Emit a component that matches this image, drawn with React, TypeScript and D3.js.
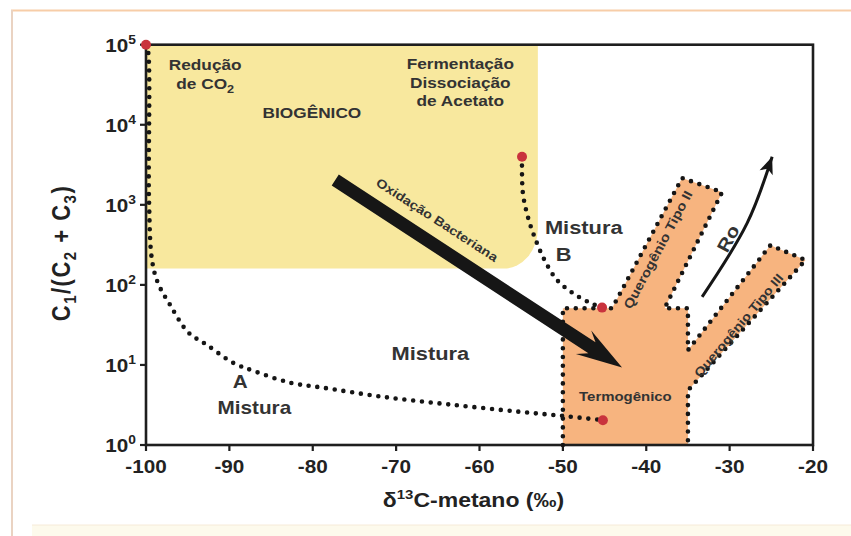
import React from "react";
import * as d3 from "d3";

const WIDTH = 851;
const HEIGHT = 536;

// Axis ticks
const xTickValues = [-100, -90, -80, -70, -60, -50, -40, -30, -20];
const yTickExponents = [0, 1, 2, 3, 4, 5];

// Biogenic field (δ13C range, C1/(C2+C3) range)
const biogenicDelta = [-100, -53];
const biogenicRatio = [160, 100000];

// Thermogenic field with kerogen type II and type III branches (δ13C, ratio)
const thermogenicField: [number, number][] = [
  [-50, 1], [-50, 51], [-44.1, 51], [-35.7, 2160], [-30.9, 1440], [-37.8, 51],
  [-35, 51], [-35, 15.3], [-25.1, 313], [-20.9, 204], [-35, 4.8], [-35, 1],
];

// Mixing trends
const mixingCurveA: [number, number][] = [
  [-100, 100000], [-99.76, 85000], [-99.64, 1150], [-99.28, 204], [-98.56, 105],
  [-97.1, 56], [-94.96, 25.7], [-92.7, 17.8], [-89.6, 10.7], [-87.2, 8.5],
  [-82.7, 6.0], [-78.8, 5.2], [-71.6, 4.0], [-63.5, 3.2], [-55.2, 2.6],
  [-49.8, 2.3], [-45.2, 2.04],
];
const mixingCurveB: [number, number][] = [
  [-54.9, 3980], [-54.8, 1410], [-54.2, 708], [-53.4, 398], [-52.2, 204],
  [-50.7, 115], [-48.8, 79], [-46.8, 60], [-45.3, 52],
];
const endMembers: [number, number][] = [
  [-100, 100000], [-54.9, 3980], [-45.3, 52], [-45.2, 2.04],
];

// Bacterial oxidation trend and maturity (Ro) trend
const oxidationArrow: [number, number][] = [[-77.3, 2040], [-42.9, 9.3]];
const maturityArrow: [number, number][] = [[-33.3, 71], [-27.9, 590], [-24.9, 3980]];

type Note = { lines: string[]; x: number; y: number; size: number; rotate?: number };

const fieldNotes: Note[] = [
  { lines: ["BIOGÊNICO"], x: -80.1, y: 14100, size: 15 },
  { lines: ["Fermentação"], x: -62.3, y: 58900, size: 15 },
  { lines: ["Dissociação"], x: -62.3, y: 33900, size: 15 },
  { lines: ["de Acetato"], x: -62.3, y: 19950, size: 15 },
  { lines: ["Mistura"], x: -47.5, y: 525, size: 19 },
  { lines: ["B"], x: -49.9, y: 245, size: 19 },
  { lines: ["Mistura"], x: -65.9, y: 14.1, size: 19 },
  { lines: ["A"], x: -88.7, y: 6.3, size: 18 },
  { lines: ["Mistura"], x: -87.0, y: 2.9, size: 18 },
  { lines: ["Termogênico"], x: -42.5, y: 4.0, size: 13 },
  { lines: ["Querogênio Tipo II"], x: -38.6, y: 275, size: 13, rotate: -62 },
  { lines: ["Querogênio Tipo III"], x: -28.9, y: 31, size: 12.5, rotate: -50 },
  { lines: ["Ro"], x: -30.2, y: 380, size: 18, rotate: -62 },
  { lines: ["Oxidação Bacteriana"], x: -65.1, y: 646, size: 12.5, rotate: 33 },
];
const co2Note = { x: -92.9, y1: 57500, y2: 32400 };

const FONT = "'Liberation Sans', Arial, Helvetica, sans-serif";
const TEXT = "#333333";
const STRETCH = 1.15;

const x = d3.scaleLinear().domain([-100, -20]).range([146, 813]);
const y = d3.scaleLog().domain([1, 100000]).range([445, 44.7]);

const px = (d: [number, number]): [number, number] => [x(d[0]), y(d[1])];

export default function App() {
  const left = x(-100);
  const right = x(-20);
  const top = y(100000);
  const bottom = y(1);

  // Biogenic field with rounded lower-right corner
  const bx0 = x(biogenicDelta[0]);
  const bx1 = x(biogenicDelta[1]);
  const by0 = y(biogenicRatio[1]);
  const by1 = y(biogenicRatio[0]);
  const rx = 34;
  const ry = 40;
  const biogenicPath = `M${bx0},${by0} H${bx1} V${by1 - ry} A${rx},${ry} 0 0 1 ${bx1 - rx},${by1} H${bx0} Z`;

  const straight = d3.line<[number, number]>().x((d) => x(d[0])).y((d) => y(d[1]));
  const smooth = d3
    .line<[number, number]>()
    .x((d) => x(d[0]))
    .y((d) => y(d[1]))
    .curve(d3.curveCatmullRom.alpha(0.5));

  const fieldFill = straight(thermogenicField) + "Z";
  const fieldOutline = straight(thermogenicField);

  // Oxidation arrow polygon
  const [sx, sy] = px(oxidationArrow[0]);
  const [tx, ty] = px(oxidationArrow[1]);
  const len = Math.hypot(tx - sx, ty - sy);
  const ux = (tx - sx) / len;
  const uy = (ty - sy) / len;
  const nx = -uy;
  const ny = ux;
  const shaftHalf = 6.5;
  const headHalf = 14;
  const headLen = 46;
  const neck = 36;
  const pt = (d: number, w: number) => `${sx + ux * d + nx * w},${sy + uy * d + ny * w}`;
  const oxidationPoly = [
    pt(0, shaftHalf),
    pt(len - neck, shaftHalf),
    pt(len - headLen, headHalf),
    pt(len, 0),
    pt(len - headLen, -headHalf),
    pt(len - neck, -shaftHalf),
    pt(0, -shaftHalf),
  ].join(" ");

  // Maturity arrow
  const mPts = maturityArrow.map(px);
  const maturityLine = d3
    .line<[number, number]>()
    .curve(d3.curveCatmullRom.alpha(0.5))(mPts) as string;
  const [m1x, m1y] = mPts[mPts.length - 1];
  const [m0x, m0y] = mPts[mPts.length - 2];
  const mLen = Math.hypot(m1x - m0x, m1y - m0y);
  const mux = (m1x - m0x) / mLen;
  const muy = (m1y - m0y) / mLen;
  const mhL = 17;
  const mhW = 7;
  const maturityHead = [
    `${m1x},${m1y}`,
    `${m1x - mux * mhL - muy * mhW},${m1y - muy * mhL + mux * mhW}`,
    `${m1x - mux * mhL * 0.75},${m1y - muy * mhL * 0.75}`,
    `${m1x - mux * mhL + muy * mhW},${m1y - muy * mhL - mux * mhW}`,
  ].join(" ");

  const dotted = {
    fill: "none",
    stroke: "#151515",
    strokeWidth: 4.6,
    strokeDasharray: "0 8.8",
    strokeLinecap: "round" as const,
  };

  return (
    <svg
      width={WIDTH}
      height={HEIGHT}
      viewBox={`0 0 ${WIDTH} ${HEIGHT}`}
      style={{ position: "absolute", left: 0, top: 0, background: "#ffffff" }}
      fontFamily={FONT}
    >
      {/* page frame */}
      <rect x={32} y={525} width={WIDTH - 32} height={HEIGHT - 525} fill="#fdfaec" />
      <line x1={32} x2={WIDTH} y1={525} y2={525} stroke="#f6ead8" strokeWidth={1} />
      <line x1={11} x2={WIDTH} y1={10.5} y2={10.5} stroke="#f7cda8" strokeWidth={2.2} />
      <line x1={12} x2={12} y1={10} y2={HEIGHT} stroke="#ead3c2" strokeWidth={2} />

      {/* fields */}
      <path d={biogenicPath} fill="#f8e89e" />
      <path d={fieldFill} fill="#f7b47f" />

      {/* plot frame */}
      <rect x={left} y={top} width={right - left} height={bottom - top} fill="none" stroke="#1e1e1e" strokeWidth={2.6} />

      {/* x axis ticks */}
      {xTickValues.map((v) => (
        <g key={v}>
          <line x1={x(v)} x2={x(v)} y1={bottom} y2={bottom + 6} stroke="#1e1e1e" strokeWidth={2.2} />
          <g transform={`translate(${x(v)},${bottom + 28}) scale(${STRETCH},1)`}>
            <text textAnchor="middle" fontSize={18} fontWeight="bold" fill="#222">
              {v}
            </text>
          </g>
        </g>
      ))}

      {/* y axis ticks */}
      {yTickExponents.map((e) => (
        <g key={e}>
          <line x1={left - 6} x2={left} y1={y(Math.pow(10, e))} y2={y(Math.pow(10, e))} stroke="#1e1e1e" strokeWidth={2.2} />
          <g transform={`translate(${left - 10},${y(Math.pow(10, e)) + 7}) scale(${STRETCH},1)`}>
            <text textAnchor="end" fontSize={18} fontWeight="bold" fill="#222">
              10
              <tspan dy={-8} fontSize={12}>
                {e}
              </tspan>
            </text>
          </g>
        </g>
      ))}

      {/* axis titles */}
      <g transform={`translate(${(left + right) / 2 - 6},${507}) scale(${STRETCH},1)`}>
        <text textAnchor="middle" fontSize={20} fontWeight="bold" fill="#222">
          δ
          <tspan dy={-8} fontSize={13}>
            13
          </tspan>
          <tspan dy={8}>C-metano (‰)</tspan>
        </text>
      </g>
      <g transform={`translate(${70},${253}) rotate(-90) scale(1,${STRETCH})`}>
        <text textAnchor="middle" fontSize={22} fontWeight="bold" fill="#222" letterSpacing={1.5}>
          C<tspan dy={5} fontSize={15}>1</tspan>
          <tspan dy={-5}>/(C</tspan>
          <tspan dy={5} fontSize={15}>2</tspan>
          <tspan dy={-5}> + C</tspan>
          <tspan dy={5} fontSize={15}>3</tspan>
          <tspan dy={-5}>)</tspan>
        </text>
      </g>

      {/* mixing trends and outline */}
      <path d={smooth(mixingCurveA) as string} {...dotted} />
      <path d={smooth(mixingCurveB) as string} {...dotted} />
      <path d={fieldOutline as string} {...dotted} />

      {/* trend arrows */}
      <polygon points={oxidationPoly} fill="#161616" />
      <path d={maturityLine} fill="none" stroke="#161616" strokeWidth={3} />
      <polygon points={maturityHead} fill="#161616" />

      {/* end members */}
      {endMembers.map((d, i) => (
        <circle key={i} cx={x(d[0])} cy={y(d[1])} r={5} fill="#c9333d" />
      ))}

      {/* field labels */}
      <g transform={`translate(${x(co2Note.x)},${y(co2Note.y1)}) scale(${STRETCH},1)`}>
        <text textAnchor="middle" dominantBaseline="central" fontSize={15} fontWeight="bold" fill={TEXT}>
          Redução
        </text>
      </g>
      <g transform={`translate(${x(co2Note.x)},${y(co2Note.y2) + 5}) scale(${STRETCH},1)`}>
        <text textAnchor="middle" fontSize={15} fontWeight="bold" fill={TEXT}>
          de CO<tspan dy={4} fontSize={11}>2</tspan>
        </text>
      </g>
      {fieldNotes.map((n, i) => (
        <g
          key={i}
          transform={`translate(${x(n.x)},${y(n.y)}) rotate(${n.rotate ?? 0}) scale(${STRETCH},1)`}
        >
          <text textAnchor="middle" dominantBaseline="central" fontSize={n.size} fontWeight="bold" fill={TEXT}>
            {n.lines[0]}
          </text>
        </g>
      ))}
    </svg>
  );
}
